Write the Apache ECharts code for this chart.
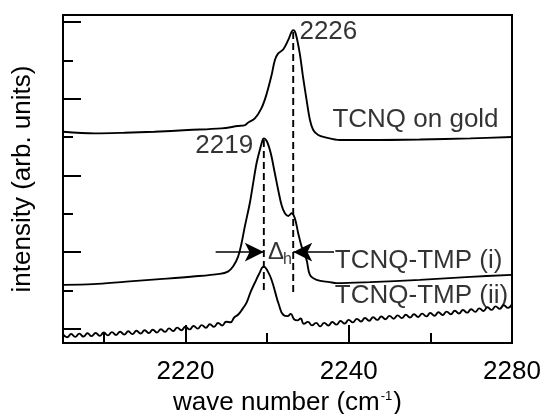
<!DOCTYPE html>
<html><head><meta charset="utf-8">
<script src="https://cdn.jsdelivr.net/npm/echarts@6/dist/echarts.min.js"></script>
<style>html,body{margin:0;padding:0;background:#fff}#c{width:543px;height:414px}</style>
</head><body><div id="c"></div>
<script>
// ---- data (x: wave number, y: intensity in arb. units, offset spectra) ----
const goldX = [2205, 2208.9, 2212.5, 2216.2, 2220.3, 2224.4, 2226.4, 2227.3, 2227.65, 2228.5, 2229.3, 2229.9, 2230.55, 2230.95, 2231.36, 2231.97, 2232.58, 2233.0, 2233.2, 2233.5, 2234.0, 2234.4, 2234.84, 2235.25, 2235.65, 2236.26, 2237.1, 2238.9, 2242.2, 2248.7, 2254.9, 2260];
const goldY = [5.137, 5.095, 5.11, 5.137, 5.181, 5.225, 5.285, 5.311, 5.371, 5.486, 5.746, 6.092, 6.613, 7.003, 7.178, 7.282, 7.524, 7.74, 7.785, 7.698, 7.178, 6.569, 5.962, 5.441, 5.181, 5.051, 4.991, 4.921, 4.921, 4.934, 4.965, 4.999];

const tmp1X = [2205, 2208.7, 2212.75, 2216.84, 2220.93, 2224.2, 2225.2, 2225.83, 2226.45, 2226.87, 2227.27, 2227.88, 2228.29, 2228.71, 2229.11, 2229.45, 2229.6, 2230.0, 2230.45, 2230.95, 2231.36, 2231.77, 2232.18, 2232.6, 2233.0, 2233.4, 2233.81, 2234.23, 2234.84, 2235.25, 2236.07, 2237.7, 2238.52, 2242.6, 2248.7, 2254.9, 2260];
const tmp1Y = [1.146, 1.164, 1.231, 1.294, 1.362, 1.432, 1.492, 1.622, 1.882, 2.231, 2.663, 3.273, 3.793, 4.314, 4.660, 4.921, 4.965, 4.876, 4.574, 4.054, 3.619, 3.228, 3.012, 2.942, 3.012, 2.882, 2.492, 2.143, 1.796, 1.406, 1.276, 1.216, 1.190, 1.216, 1.276, 1.354, 1.406];

const tmp2 = [
 [2205.0,-0.145],[2205.5,-0.220],[2206.0,-0.136],[2206.5,-0.211],[2207.0,-0.126],[2207.5,-0.202],[2208.0,-0.117],[2208.5,-0.192],
 [2209.0,-0.108],[2209.5,-0.183],[2210.0,-0.098],[2210.5,-0.172],[2211.0,-0.087],[2211.5,-0.161],[2212.0,-0.076],[2212.5,-0.150],
 [2213.0,-0.065],[2213.5,-0.138],[2214.0,-0.051],[2214.5,-0.124],[2215.0,-0.037],[2215.5,-0.111],[2216.0,-0.024],[2216.5,-0.097],
 [2217.0,-0.010],[2217.5,-0.080],[2218.0,0.011],[2218.5,-0.059],[2219.0,0.032],[2219.5,-0.037],[2220.0,0.053],[2220.5,-0.016],
 [2221.0,0.075],[2221.5,0.006],[2222.0,0.096],[2222.5,0.027],[2223.0,0.118],[2223.5,0.054],[2224.0,0.151],[2224.5,0.087],
 [2225.0,0.183],[2225.5,0.17],[2226.0,0.30],[2226.5,0.38],[2227.0,0.52],[2227.5,0.69],[2228.0,0.97],[2228.5,1.20],
 [2229.0,1.42],[2229.6,1.62],[2230.1,1.49],[2230.6,1.24],[2231.0,0.95],[2231.4,0.66],[2232.0,0.36],[2232.5,0.33],
 [2232.9,0.39],[2233.3,0.25],[2233.7,0.22],[2234.1,0.27],[2234.5,0.13],[2235.0,0.18],[2235.5,0.09],[2236.0,0.155],
 [2236.5,0.064],[2237.0,0.155],[2237.5,0.086],[2238.0,0.177],[2238.5,0.108],[2239.0,0.203],[2239.5,0.138],[2240.0,0.233],
 [2240.5,0.168],[2241.0,0.259],[2241.5,0.189],[2242.0,0.280],[2242.5,0.211],[2243.0,0.302],[2243.5,0.232],[2244.0,0.322],
 [2244.5,0.249],[2245.0,0.337],[2245.5,0.264],[2246.0,0.351],[2246.5,0.279],[2247.0,0.366],[2247.5,0.293],[2248.0,0.380],
 [2248.5,0.308],[2249.0,0.395],[2249.5,0.324],[2250.0,0.413],[2250.5,0.342],[2251.0,0.431],[2251.5,0.360],[2252.0,0.449],
 [2252.5,0.379],[2253.0,0.469],[2253.5,0.400],[2254.0,0.490],[2254.5,0.421],[2255.0,0.511],[2255.5,0.442],[2256.0,0.533],
 [2256.5,0.466],[2257.0,0.560],[2257.5,0.493],[2258.0,0.586],[2258.5,0.519],[2259.0,0.613],[2259.5,0.546],[2260.0,0.639]
];

// axis ticks / labels
const xMin = 2205, xMax = 2260;
const yMin = -0.37, yMax = 8.18;
const xTickMajor = [2220, 2240];
const xTickMinor = [2210, 2230, 2250];
const xLabelValues = [2220, 2240, 2260];
const xLabelTexts = ['2220', '2240', '2280'];
const yTickMajor = [0, 2, 4, 6, 8];
const yTickMinor = [1, 3, 5, 7];

// annotations (data coordinates)
const curveLabels = [
  {text: '2226', x: 2233.96, y: 7.74, align: 'left'},
  {text: '2219', x: 2228.3, y: 4.77, align: 'right'},
  {text: 'TCNQ on gold', x: 2238.0, y: 5.44, align: 'left'},
  {text: 'TCNQ-TMP (i)', x: 2238.3, y: 1.77, align: 'left'},
  {text: 'TCNQ-TMP (ii)', x: 2238.3, y: 0.86, align: 'left'}
];
const deltaPos = [2231.1, 2.0];
const deltaSubPos = [2232.5, 1.8];
const dashLines = [
  [[2233.2, 7.74], [2233.2, 0.945]],
  [[2229.6, 4.92], [2229.6, 0.96]]
];
const arrows = [
  [[2223.7, 2.0], [2229.6, 2.0]],
  [[2238.2, 2.0], [2233.2, 2.0]]
];

// ---- chart ----
const FONT = '"Liberation Sans", Arial, Helvetica, sans-serif';
const FS = 26;
const zip = (xs, ys) => xs.map((x, i) => [x, ys[i]]);
const lineSeries = (data, smooth) => ({
  type: 'line', data, showSymbol: false, symbol: 'none', smooth, silent: true,
  lineStyle: {color: '#000', width: 1.9}, z: 3
});

const series = [
  lineSeries(zip(goldX, goldY), 0.35),
  lineSeries(zip(tmp1X, tmp1Y), 0.35),
  lineSeries(tmp2, 0.5)
];
dashLines.forEach(d => series.push({
  type: 'line', data: d, showSymbol: false, symbol: 'none', silent: true,
  lineStyle: {color: '#000', width: 1.9, type: [7, 4]}, z: 4
}));
series.push({
  type: 'line', data: [], silent: true,
  markLine: {
    silent: true, symbol: ['none', 'arrow'], symbolSize: [14, 19], animation: false,
    lineStyle: {color: '#000', width: 1.6, type: 'solid'},
    itemStyle: {color: '#000'},
    label: {show: false},
    data: arrows.map(a => [{coord: a[0]}, {coord: a[1]}])
  }
});
const labelItem = (x, y, text, align, size) => ({
  value: [x, y],
  label: {show: true, formatter: text, position: 'inside', align, verticalAlign: 'middle',
          fontSize: size, color: '#000', fontFamily: FONT, textBorderWidth: 0}
});
const labelData = curveLabels.map(l => labelItem(l.x, l.y, l.text, l.align, FS));
labelData.push(labelItem(deltaPos[0], deltaPos[1], 'Δ', 'center', 24));
labelData.push(labelItem(deltaSubPos[0], deltaSubPos[1], 'h', 'center', 16));
series.push({
  type: 'scatter', symbolSize: 1, silent: true, itemStyle: {color: 'rgba(0,0,0,0)'},
  data: labelData, z: 5
});

const baseX = {
  type: 'value', min: xMin, max: xMax, position: 'bottom',
  splitLine: {show: false}
};
const baseY = {
  type: 'value', min: yMin, max: yMax, position: 'left',
  splitLine: {show: false}
};
const option = {
  animation: false,
  backgroundColor: '#fff',
  grid: {left: 63, right: 31, top: 15, bottom: 71, show: true, borderColor: '#000', borderWidth: 2,
         backgroundColor: 'transparent', containLabel: false, outerBoundsMode: 'none'},
  xAxis: [
    Object.assign({}, baseX, {
      axisLine: {show: true, onZero: false, lineStyle: {color: '#000', width: 2}},
      axisTick: {show: true, inside: true, length: 18, customValues: xTickMajor, lineStyle: {color: '#000', width: 2}},
      axisLabel: {show: true, customValues: xLabelValues, margin: 16, color: '#000', fontSize: FS, fontFamily: FONT,
                  formatter: v => xLabelTexts[xLabelValues.indexOf(v)] || ''},
      name: '{a|wave number (cm}{s|-1}{a|)}', nameLocation: 'middle', nameGap: 45,
      nameTextStyle: {color: '#000', fontSize: FS, fontFamily: FONT, rich: {
        a: {fontSize: FS, fontFamily: FONT, color: '#000'},
        s: {fontSize: 13, fontFamily: FONT, color: '#000', padding: [0, 1, 12, 1]}
      }}
    }),
    Object.assign({}, baseX, {
      axisLine: {show: false, onZero: false},
      axisTick: {show: true, inside: true, length: 10, customValues: xTickMinor, lineStyle: {color: '#000', width: 2}},
      axisLabel: {show: false}
    })
  ],
  yAxis: [
    Object.assign({}, baseY, {
      axisLine: {show: true, onZero: false, lineStyle: {color: '#000', width: 2}},
      axisTick: {show: true, inside: true, length: 18, customValues: yTickMajor, lineStyle: {color: '#000', width: 2}},
      axisLabel: {show: false},
      name: 'intensity (arb. units)', nameLocation: 'middle', nameRotate: 90, nameGap: 27,
      nameTextStyle: {color: '#000', fontSize: FS, fontFamily: FONT}
    }),
    Object.assign({}, baseY, {
      axisLine: {show: false, onZero: false},
      axisTick: {show: true, inside: true, length: 10, customValues: yTickMinor, lineStyle: {color: '#000', width: 2}},
      axisLabel: {show: false}
    })
  ],
  series
};
const chart = echarts.init(document.getElementById('c'), null, {renderer: 'canvas'});
chart.setOption(option);
</script>
</body></html>
